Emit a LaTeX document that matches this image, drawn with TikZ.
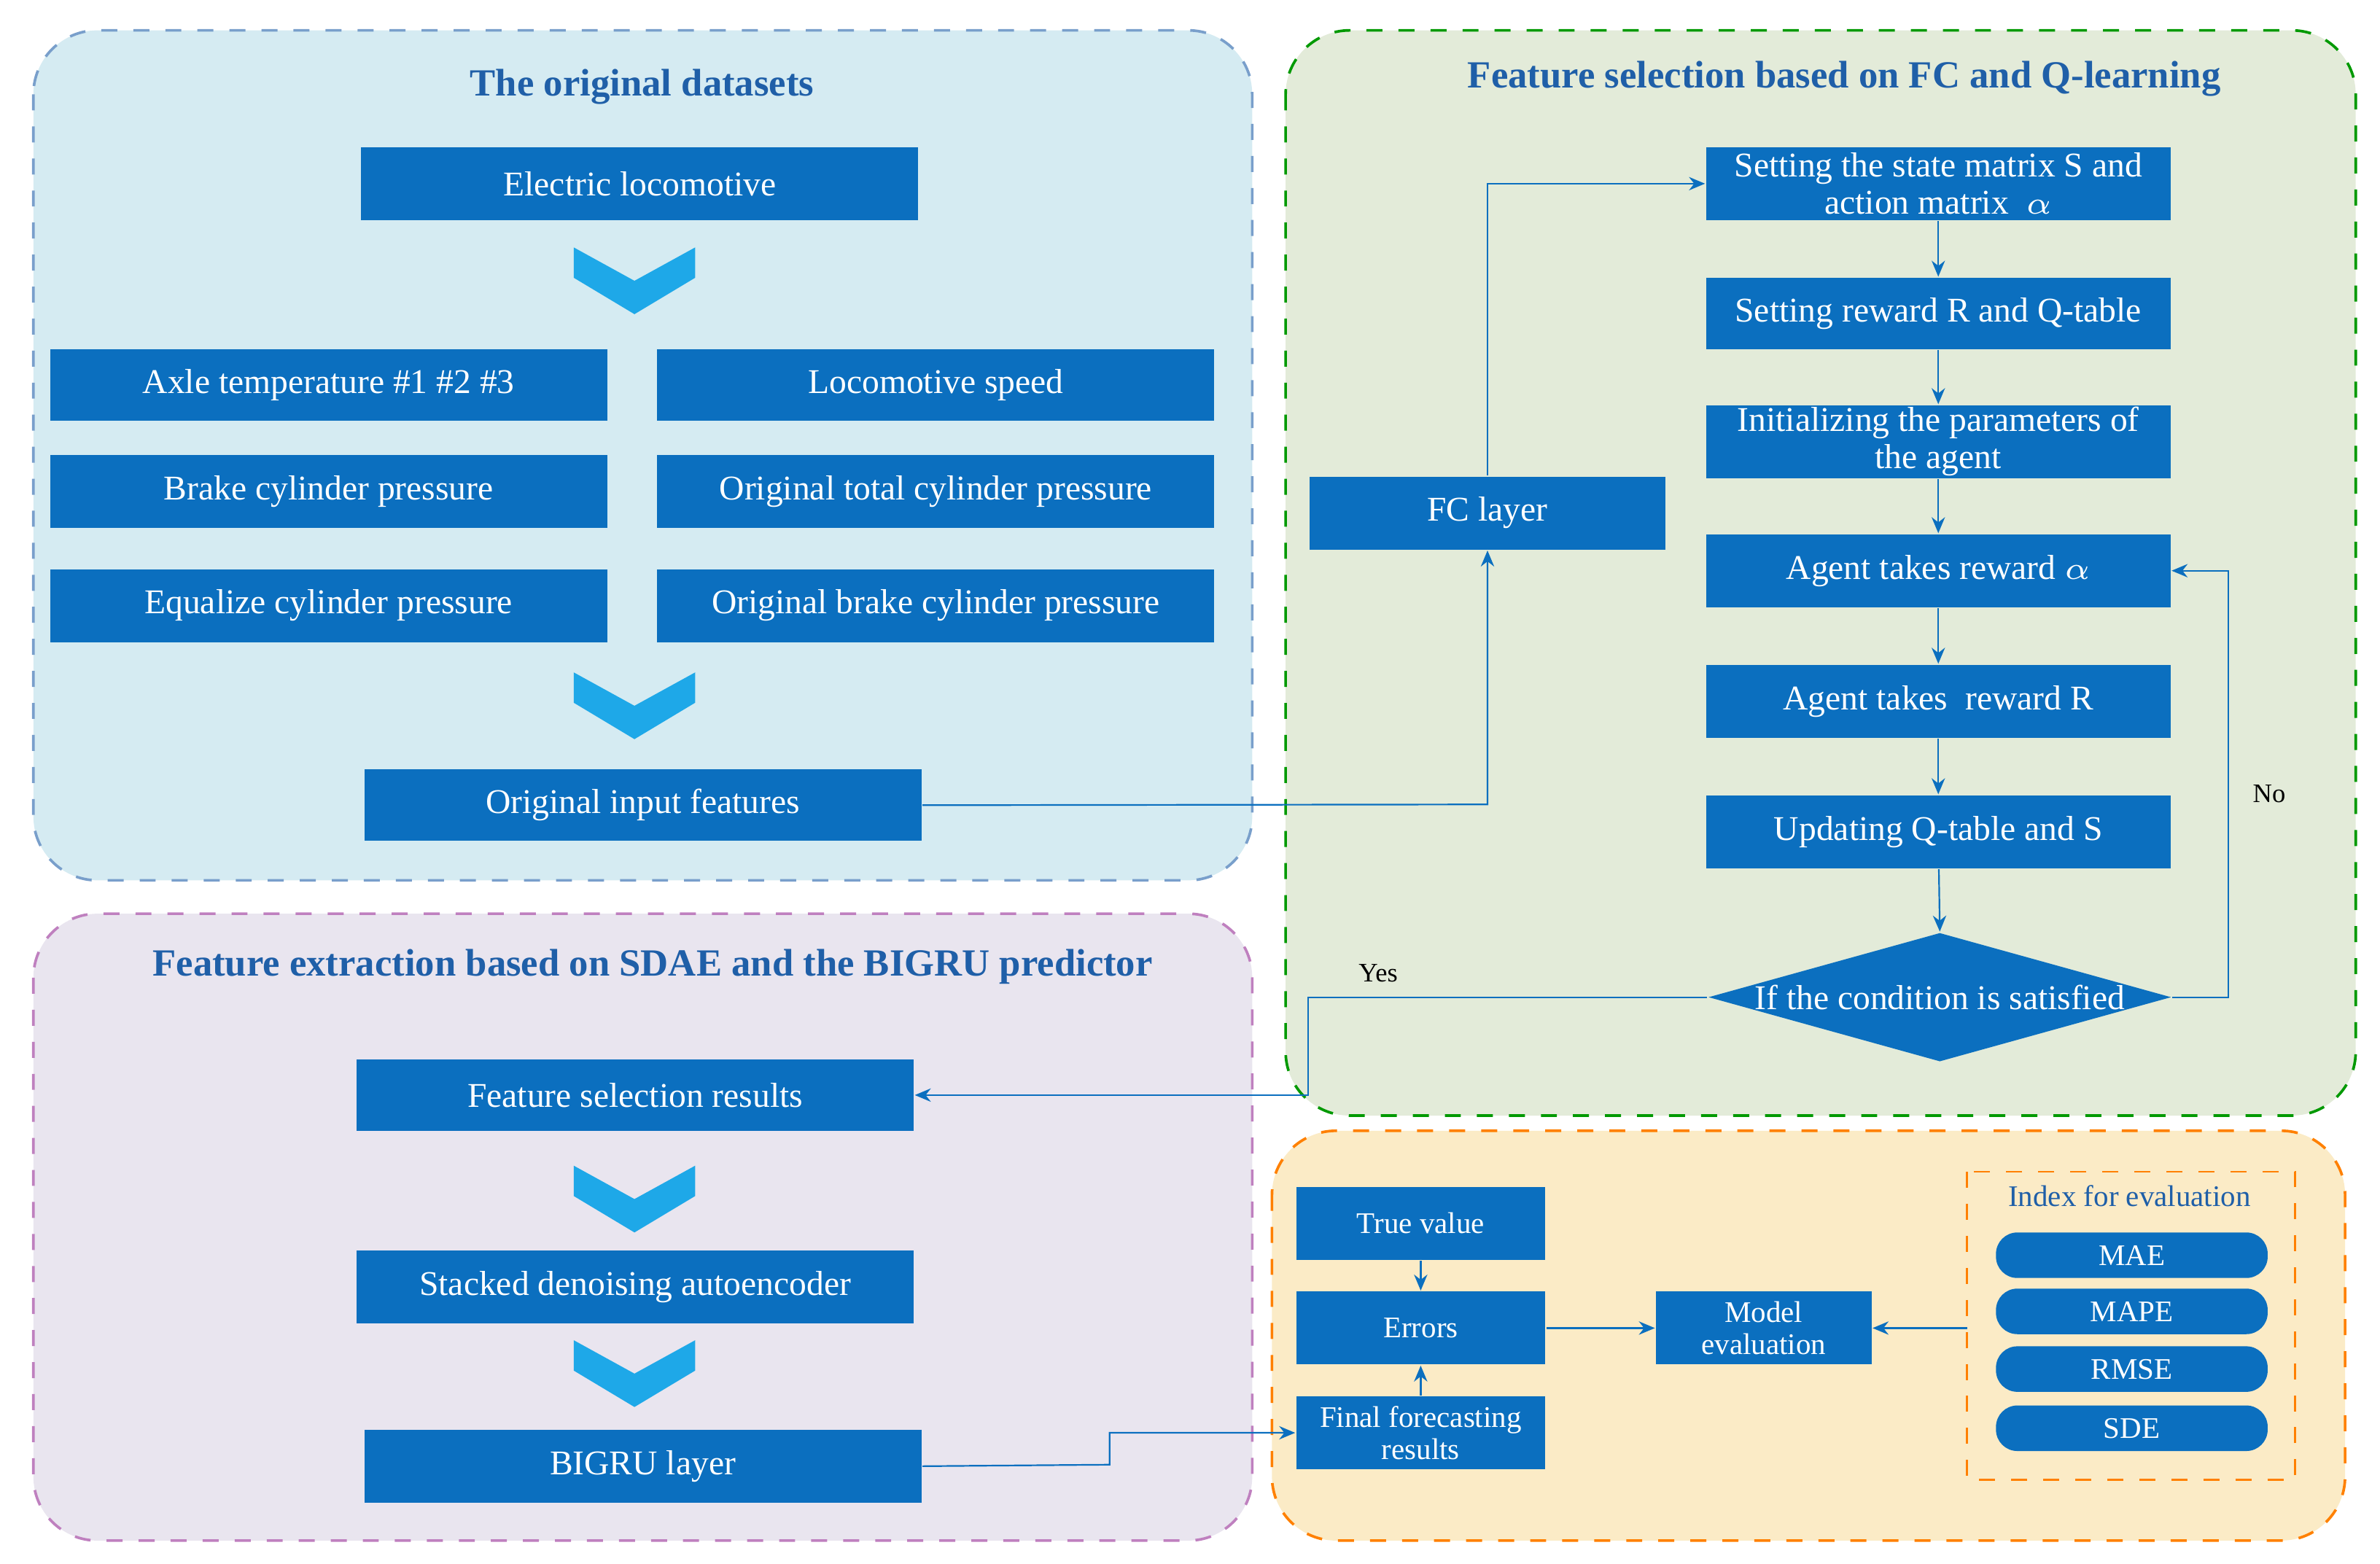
\documentclass[tikz,border=0pt]{standalone}
\usepackage{fontspec}
\setmainfont{Liberation Serif}
\usetikzlibrary{shapes.geometric,arrows.meta}
\definecolor{bx}{HTML}{0B6FBF}
\definecolor{chev}{HTML}{1EA8E8}
\definecolor{ttl}{HTML}{1F5FA8}
\definecolor{pb}{HTML}{D5EBF2}
\definecolor{pg}{HTML}{E3EBD9}
\definecolor{pp}{HTML}{E9E5EF}
\definecolor{po}{HTML}{FBEBC6}
\begin{document}
\begin{tikzpicture}[x=0.01cm,y=-0.01cm,
 panel/.style={draw,dashed,rounded corners=12pt,line width=0.5pt},
 box/.style={fill=bx,text=white,inner sep=0pt,font=\fontsize{6.5}{7}\selectfont,align=center},
 sbox/.style={box,font=\fontsize{5.6}{6}\selectfont},
 rbox/.style={sbox,rounded corners=4pt},
 ttl/.style={text=ttl,font=\fontsize{7.2}{8}\selectfont\bfseries},
 con/.style={draw=bx,line width=0.3pt,-{Stealth[length=3pt,width=2.5pt]}},
 lab/.style={font=\fontsize{5}{6}\selectfont}]
\useasboundingbox (0,0) rectangle (1568,1030);
\newcommand{\bxx}[6][box]{\node[#1,minimum width={(#4-#2)*0.01cm},minimum height={(#5-#3)*0.01cm}] (#6) at ({(#2+#4)/2},{(#3+#5)/2})}
\newcommand{\chv}[2]{\fill[chev] (#1-40,#2-22) -- (#1,#2) -- (#1+40,#2-22) -- (#1+40,#2-2) -- (#1,#2+22) -- (#1-40,#2-2) -- cycle;}
% panels
\draw[panel,draw=ttl!60,fill=pb] (22,20) rectangle (825,580);
\draw[panel,draw=green!60!black,fill=pg] (847,20) rectangle (1552,735);
\draw[panel,draw=violet!50,fill=pp] (22,602) rectangle (825,1015);
\draw[panel,draw=orange,fill=po] (838,745) rectangle (1545,1015);
\node[ttl] at (423,57) {The original datasets};
\node[ttl] at (1215,52) {Feature selection based on FC and Q-learning};
\node[ttl] at (430,637) {Feature extraction based on SDAE and the BIGRU predictor};
% blue panel
\bxx{238}{97}{605}{145}{el} {Electric locomotive};
\chv{418}{185}
\bxx{33}{230}{400}{277}{ax} {Axle temperature \#1 \#2 \#3};
\bxx{433}{230}{800}{277}{ls} {Locomotive speed};
\bxx{33}{300}{400}{348}{bc} {Brake cylinder pressure};
\bxx{433}{300}{800}{348}{ot} {Original total cylinder pressure};
\bxx{33}{375}{400}{423}{eq} {Equalize cylinder pressure};
\bxx{433}{375}{800}{423}{ob} {Original brake cylinder pressure};
\chv{418}{465}
\bxx{240}{507}{607}{554}{oi} {Original input features};
% purple panel
\bxx{235}{698}{602}{745}{fs} {Feature selection results};
\chv{418}{790}
\bxx{235}{824}{602}{872}{sd} {Stacked denoising autoencoder};
\chv{418}{905}
\bxx{240}{942}{607}{990}{bg} {BIGRU layer};
% green panel
\bxx{1124}{97}{1430}{145}{s1} {Setting the state matrix S and\\action\ matrix \ $\alpha$};
\bxx{1124}{183}{1430}{230}{s2} {Setting reward R and Q-table};
\bxx{1124}{267}{1430}{315}{s3} {Initializing the parameters of\\the agent};
\bxx{1124}{352}{1430}{400}{s4} {Agent takes reward $\alpha$};
\bxx{1124}{438}{1430}{486}{s5} {Agent takes\ \ reward R};
\bxx{1124}{524}{1430}{572}{s6} {Updating Q-table and S};
\node[diamond,fill=bx,text=white,aspect=3.6,minimum width=3.05cm,minimum height=0.85cm,inner sep=0pt,font=\fontsize{6.5}{7}\selectfont] (dm) at (1278,657) {If the condition is satisfied};
\bxx{863}{314}{1097}{362}{fc} {FC layer};
% orange panel
\bxx[sbox]{854}{782}{1018}{830}{tv} {True value};
\bxx[sbox]{854}{851}{1018}{899}{er} {Errors};
\bxx[sbox]{854}{920}{1018}{968}{ff} {Final forecasting\\results};
\bxx[sbox]{1091}{851}{1233}{899}{me} {Model\\evaluation};
\draw[dashed,draw=orange,line width=0.4pt] (1296,772) rectangle (1512,975);
\coordinate (ix) at (1296,875);
\node[text=ttl,font=\fontsize{5.6}{6}\selectfont] at (1403,788) {Index for evaluation};
\bxx[rbox]{1315}{812}{1494}{842}{m1} {MAE};
\bxx[rbox]{1315}{849}{1494}{879}{m2} {MAPE};
\bxx[rbox]{1315}{887}{1494}{917}{m3} {RMSE};
\bxx[rbox]{1315}{926}{1494}{956}{m4} {SDE};
% connectors
\draw[con] (oi.east) -- (980,530) -- (fc.south);
\draw[con] (fc.north) |- (s1.west);
\draw[con] (s1) -- (s2); \draw[con] (s2) -- (s3); \draw[con] (s3) -- (s4);
\draw[con] (s4) -- (s5); \draw[con] (s5) -- (s6); \draw[con] (s6) -- (dm.north);
\draw[con] (dm.east) -- (1468,657) |- (s4.east);
\node[lab] at (1495,523) {No};
\draw[con] (dm.west) -- (862,657) |- (fs.east);
\node[lab] at (908,641) {Yes};
\draw[con] (bg.east) -- (731,965) |- (ff.west);
\draw[con] (tv) -- (er); \draw[con] (ff) -- (er);
\draw[con] (er) -- (me);
\draw[con] (ix) -- (me.east);
\end{tikzpicture}
\end{document}
